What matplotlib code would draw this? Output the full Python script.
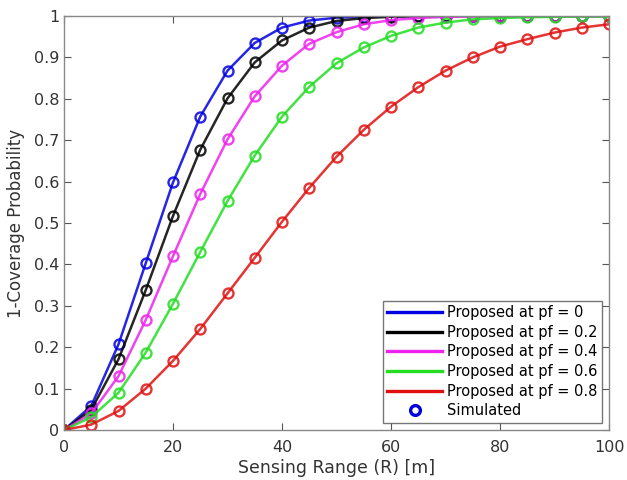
import matplotlib
matplotlib.use("Agg")
import matplotlib.pyplot as plt
from matplotlib.lines import Line2D

# Sensing range (m)
sensing_range = [0, 5, 10, 15, 20, 25, 30, 35, 40, 45, 50,
                 55, 60, 65, 70, 75, 80, 85, 90, 95, 100]

# 1-coverage probability for each failure probability pf
cov_pf0 = [0, 0.058, 0.207, 0.403, 0.598, 0.757, 0.868, 0.935, 0.972, 0.989, 0.996,
           0.998, 0.999, 1.0, 1.0, 1.0, 1.0, 1.0, 1.0, 1.0, 1.0]
cov_pf2 = [0, 0.049, 0.171, 0.338, 0.517, 0.677, 0.801, 0.888, 0.941, 0.972, 0.988,
           0.995, 0.998, 0.999, 1.0, 1.0, 1.0, 1.0, 1.0, 1.0, 1.0]
cov_pf4 = [0, 0.040, 0.130, 0.266, 0.420, 0.570, 0.702, 0.806, 0.880, 0.933, 0.961,
           0.980, 0.990, 0.995, 0.998, 0.999, 1.0, 1.0, 1.0, 1.0, 1.0]
cov_pf6 = [0, 0.031, 0.090, 0.187, 0.305, 0.430, 0.553, 0.663, 0.757, 0.829, 0.886,
           0.924, 0.952, 0.972, 0.984, 0.992, 0.995, 0.997, 0.998, 0.999, 0.999]
cov_pf8 = [0, 0.013, 0.046, 0.100, 0.167, 0.244, 0.330, 0.416, 0.503, 0.585, 0.660,
           0.725, 0.781, 0.828, 0.868, 0.900, 0.926, 0.944, 0.960, 0.972, 0.980]

series = [cov_pf0, cov_pf2, cov_pf4, cov_pf6, cov_pf8]
pf_labels = ["0", "0.2", "0.4", "0.6", "0.8"]
colors = ["#0000e0", "#000000", "#ee22ee", "#22dd22", "#e01010"]

plt.rcParams["font.family"] = ["DejaVu Sans"]

fig = plt.figure(figsize=(6.27, 4.8), dpi=100)
ax = fig.add_axes([64 / 627, 50 / 480, 545 / 627, 414 / 480])

for vals, c in zip(series, colors):
    ax.plot(sensing_range, vals, color=c, lw=1.8, marker="o", ms=7.2,
            mfc="none", mec=c, mew=1.7, alpha=0.85)

ax.set_xlim(0, 100)
ax.set_ylim(0, 1)
ax.set_xticks(range(0, 101, 20))
ax.set_yticks([i / 10 for i in range(11)])
ax.set_yticklabels(["0"] + [f"{i / 10:.1f}" for i in range(1, 10)] + ["1"])
ax.tick_params(direction="in", top=True, right=True, labelsize=11.5,
               labelcolor="#333333", color="#555555", length=5)
ax.tick_params(axis="x", pad=7)
for s in ax.spines.values():
    s.set_color("#888888")
    s.set_linewidth(1.0)

ax.set_xlabel("Sensing Range (R) [m]", fontsize=12.5, color="#333333", labelpad=3)
ax.set_ylabel("1-Coverage Probability", fontsize=12, color="#333333", labelpad=6)

handles = [Line2D([], [], color=c, lw=2.4) for c in colors]
handles.append(Line2D([], [], ls="none", marker="o", ms=7, mfc="none",
                      mec="#0000e0", mew=2.4))
labels = [f"Proposed at pf = {p}" for p in pf_labels] + ["Simulated"]
leg = ax.legend(handles, labels, loc="lower right", fontsize=10.5,
                frameon=True, fancybox=False, borderaxespad=0.5,
                handlelength=3.8, handletextpad=0.3, labelspacing=0.32,
                borderpad=0.3)
leg.get_frame().set_edgecolor("#555555")
leg.get_frame().set_linewidth(1.0)

fig.savefig("out.png", dpi=100)
